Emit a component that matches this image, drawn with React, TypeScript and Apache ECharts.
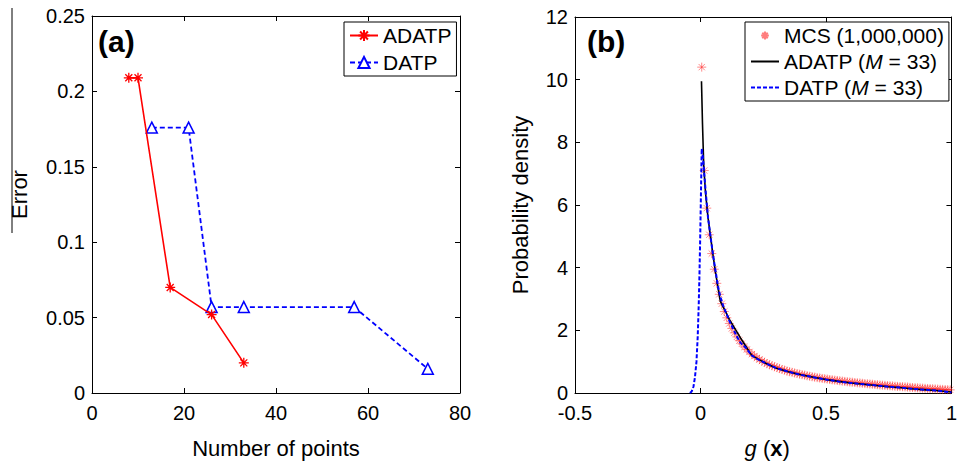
import React, { useEffect, useRef } from 'react';
import * as echarts from 'echarts';

// ---- Panel (a) data ----
const adatpLeftX = [8, 10, 17, 26, 33];
const adatpLeftY = [0.209, 0.209, 0.07, 0.052, 0.02];
const datpLeftX = [13, 21, 26, 33, 57, 73];
const datpLeftY = [0.176, 0.176, 0.057, 0.057, 0.057, 0.016];

// ---- Panel (b) data ----
const mcsX = [
  0.005, 0.015, 0.025, 0.035, 0.045, 0.055, 0.065, 0.075, 0.085, 0.095,
  0.105, 0.115, 0.125, 0.135, 0.145, 0.155, 0.165, 0.175, 0.185, 0.195,
  0.205, 0.215, 0.225, 0.235, 0.245, 0.255, 0.265, 0.275, 0.285, 0.295,
  0.305, 0.315, 0.325, 0.335, 0.345, 0.355, 0.365, 0.375, 0.385, 0.395,
  0.405, 0.415, 0.425, 0.435, 0.445, 0.455, 0.465, 0.475, 0.485, 0.495,
  0.505, 0.515, 0.525, 0.535, 0.545, 0.555, 0.565, 0.575, 0.585, 0.595,
  0.605, 0.615, 0.625, 0.635, 0.645, 0.655, 0.665, 0.675, 0.685, 0.695,
  0.705, 0.715, 0.725, 0.735, 0.745, 0.755, 0.765, 0.775, 0.785, 0.795,
  0.805, 0.815, 0.825, 0.835, 0.845, 0.855, 0.865, 0.875, 0.885, 0.895,
  0.905, 0.915, 0.925, 0.935, 0.945, 0.955, 0.965, 0.975, 0.985, 0.995,
];
const mcsY = [
  10.4, 7.1, 5.9, 5.05, 4.45, 3.95, 3.5, 3.15, 2.85, 2.6,
  2.4, 2.22, 2.06, 1.92, 1.79, 1.67, 1.57, 1.47, 1.39, 1.31,
  1.24, 1.18, 1.12, 1.07, 1.02, 0.98, 0.94, 0.9, 0.87, 0.84,
  0.81, 0.78, 0.75, 0.73, 0.7, 0.68, 0.66, 0.64, 0.62, 0.6,
  0.585, 0.57, 0.55, 0.535, 0.52, 0.505, 0.49, 0.48, 0.465, 0.455,
  0.445, 0.43, 0.42, 0.41, 0.4, 0.39, 0.38, 0.37, 0.36, 0.35,
  0.345, 0.335, 0.325, 0.32, 0.31, 0.3, 0.295, 0.285, 0.28, 0.27,
  0.265, 0.255, 0.25, 0.245, 0.235, 0.23, 0.225, 0.215, 0.21, 0.205,
  0.2, 0.195, 0.19, 0.18, 0.175, 0.17, 0.165, 0.16, 0.155, 0.15,
  0.145, 0.14, 0.135, 0.13, 0.125, 0.12, 0.115, 0.11, 0.105, 0.1,
];
const adatpRightX = [
  0.004, 0.008, 0.013, 0.02, 0.03, 0.04, 0.05, 0.06, 0.07, 0.079, 0.09, 0.1,
  0.115, 0.13, 0.145, 0.16, 0.18, 0.204, 0.23, 0.26, 0.3, 0.35, 0.4, 0.45,
  0.5, 0.55, 0.6, 0.65, 0.7, 0.75, 0.8, 0.85, 0.9, 0.95, 1.0,
];
const adatpRightY = [
  9.95, 8.6, 7.25, 6.4, 5.6, 5.0, 4.4, 3.85, 3.35, 2.93, 2.75, 2.6,
  2.35, 2.15, 1.95, 1.75, 1.5, 1.2, 1.08, 0.95, 0.8, 0.68, 0.58, 0.5,
  0.43, 0.37, 0.32, 0.28, 0.24, 0.2, 0.17, 0.13, 0.1, 0.07, 0.03,
];
const datpRightX = [
  -0.042, -0.035, -0.028, -0.022, -0.016, -0.011, -0.007, -0.004, -0.001,
  0.002, 0.005, 0.01, 0.015, 0.02, 0.03, 0.04, 0.05, 0.06, 0.07, 0.08, 0.09,
  0.1, 0.115, 0.13, 0.145, 0.16, 0.18, 0.204, 0.23, 0.26, 0.3, 0.35, 0.4,
  0.45, 0.5, 0.55, 0.6, 0.65, 0.7, 0.75, 0.8, 0.85, 0.9, 0.95, 1.0,
];
const datpRightY = [
  0, 0.05, 0.2, 0.5, 1.0, 1.8, 2.8, 3.8, 5.0,
  6.4, 7.8, 7.5, 7.0, 6.5, 5.6, 5.0, 4.4, 3.9, 3.4, 3.05, 2.8,
  2.6, 2.3, 2.05, 1.8, 1.6, 1.45, 1.2, 1.07, 0.95, 0.8, 0.68, 0.58,
  0.5, 0.43, 0.37, 0.32, 0.28, 0.24, 0.2, 0.17, 0.13, 0.1, 0.07, 0.02,
];

const zip = (xs: number[], ys: number[]) => xs.map((x, i) => [x, ys[i]]);

const FONT = "'Liberation Sans', Arial, Helvetica, sans-serif";
const ASTERISK = 'path://M5,0L5,10M0,5L10,5M1.5,1.5L8.5,8.5M1.5,8.5L8.5,1.5';
// same asterisk with invisible padding so the legend icon is drawn smaller
const ASTERISK_SMALL =
  'path://M-4,-4M14,14M5,0L5,10M0,5L10,5M1.5,1.5L8.5,8.5M1.5,8.5L8.5,1.5';

function makeAxis(
  gridIndex: number,
  position: string,
  min: number,
  max: number,
  interval: number,
  showLabel: boolean,
  extra: any = {}
) {
  const isX = position === 'bottom' || position === 'top';
  return {
    type: 'value',
    gridIndex,
    position,
    min,
    max,
    interval,
    axisLine: { show: true, onZero: false, lineStyle: { color: '#000', width: 1 } },
    axisTick: { show: true, inside: true, length: 5, lineStyle: { color: '#000', width: 1 } },
    axisLabel: {
      show: showLabel,
      color: '#000',
      fontSize: 20,
      lineHeight: 16,
      fontFamily: FONT,
      margin: isX ? 12 : 7,
      padding: isX ? 0 : [0, 0, 4, 0],
    },
    splitLine: { show: false },
    ...extra,
  };
}

const nameStyle = { color: '#000', fontSize: 22, fontFamily: FONT };
const hiddenSymbol = { opacity: 0 };

export default function App() {
  const ref = useRef<HTMLDivElement>(null);

  useEffect(() => {
    if (!ref.current) return;
    const chart = echarts.init(ref.current, undefined, { renderer: 'svg' });

    const option: any = {
      animation: false,
      backgroundColor: '#fff',
      title: [
        {
          text: '(a)',
          left: 98,
          top: 26,
          padding: 0,
          textStyle: { fontSize: 30, fontWeight: 'bold', fontFamily: FONT, color: '#000' },
        },
        {
          text: '(b)',
          left: 587,
          top: 26,
          padding: 0,
          textStyle: { fontSize: 30, fontWeight: 'bold', fontFamily: FONT, color: '#000' },
        },
      ],
      grid: [
        { left: 92, right: 500, top: 16, bottom: 68 },
        { left: 575, right: 5, top: 17, bottom: 68 },
      ],
      xAxis: [
        makeAxis(0, 'bottom', 0, 80, 20, true, {
          name: 'Number of points',
          nameLocation: 'middle',
          nameGap: 44,
          nameTextStyle: nameStyle,
        }),
        makeAxis(0, 'top', 0, 80, 20, false),
        makeAxis(1, 'bottom', -0.5, 1, 0.5, true, {
          name: '{i|g} ({b|x})',
          nameLocation: 'middle',
          nameGap: 44,
          nameTextStyle: {
            ...nameStyle,
            padding: [0, 0, 0, 8],
            rich: {
              i: { fontStyle: 'italic', fontSize: 22, fontFamily: FONT, color: '#000' },
              b: { fontWeight: 'bold', fontSize: 22, fontFamily: FONT, color: '#000' },
            },
          },
        }),
        makeAxis(1, 'top', -0.5, 1, 0.5, false),
      ],
      yAxis: [
        makeAxis(0, 'left', 0, 0.25, 0.05, true, {
          name: 'Error',
          nameLocation: 'middle',
          nameGap: 62,
          nameTextStyle: { ...nameStyle, padding: [0, 0, 0, 20] },
        }),
        makeAxis(0, 'right', 0, 0.25, 0.05, false),
        makeAxis(1, 'left', 0, 12, 2, true, {
          name: 'Probability density',
          nameLocation: 'middle',
          nameGap: 44,
          nameTextStyle: nameStyle,
        }),
        makeAxis(1, 'right', 0, 12, 2, false),
      ],
      legend: [
        {
          data: ['ADATP', 'DATP'],
          orient: 'vertical',
          left: 344,
          top: 22,
          padding: [3, 5, 3, 5],
          itemWidth: 28,
          itemHeight: 14,
          itemGap: 6,
          borderColor: '#000',
          borderWidth: 1,
          backgroundColor: '#fff',
          textStyle: { color: '#000', fontSize: 21, fontFamily: FONT },
        },
        {
          data: [
            { name: 'MCS (1,000,000)', icon: ASTERISK_SMALL },
            { name: 'ADATP (M = 33)', itemStyle: hiddenSymbol },
            { name: 'DATP (M = 33)', itemStyle: hiddenSymbol },
          ],
          orient: 'vertical',
          left: 745,
          top: 22,
          padding: [3, 5, 3, 5],
          itemWidth: 28,
          itemHeight: 14,
          itemGap: 5,
          borderColor: '#000',
          borderWidth: 1,
          backgroundColor: '#fff',
          formatter: (name: string) => name.replace('(M =', '({i|M} ='),
          textStyle: {
            color: '#000',
            fontSize: 21,
            fontFamily: FONT,
            rich: {
              i: { fontStyle: 'italic', fontSize: 21, fontFamily: FONT, color: '#000' },
            },
          },
        },
      ],
      graphic: [
        {
          type: 'line',
          shape: { x1: 12, y1: 8, x2: 12, y2: 233 },
          style: { stroke: '#000', lineWidth: 1 },
          silent: true,
        },
      ],
      series: [
        {
          name: 'ADATP',
          type: 'line',
          xAxisIndex: 0,
          yAxisIndex: 0,
          data: zip(adatpLeftX, adatpLeftY),
          symbol: ASTERISK,
          symbolSize: 10,
          showAllSymbol: true,
          lineStyle: { color: '#ff0000', width: 1.6 },
          itemStyle: { color: '#ff0000', borderColor: '#ff0000', borderWidth: 1.3 },
          z: 3,
        },
        {
          name: 'DATP',
          type: 'line',
          xAxisIndex: 0,
          yAxisIndex: 0,
          data: zip(datpLeftX, datpLeftY),
          symbol: 'triangle',
          symbolSize: 11,
          showAllSymbol: true,
          lineStyle: { color: '#0000ff', width: 1.8, type: [5, 3] },
          itemStyle: { color: '#ffffff', borderColor: '#0000ff', borderWidth: 1.5 },
          z: 2,
        },
        {
          name: 'MCS (1,000,000)',
          type: 'scatter',
          xAxisIndex: 2,
          yAxisIndex: 2,
          data: zip(mcsX, mcsY),
          symbol: ASTERISK,
          symbolSize: 9,
          itemStyle: {
            color: 'rgba(255,40,40,0.75)',
            borderColor: 'rgba(255,40,40,0.75)',
            borderWidth: 0.9,
          },
          z: 1,
        },
        {
          name: 'ADATP (M = 33)',
          type: 'line',
          xAxisIndex: 2,
          yAxisIndex: 2,
          data: zip(adatpRightX, adatpRightY),
          symbol: 'none',
          lineStyle: { color: '#000000', width: 1.6 },
          itemStyle: { color: '#000000' },
          z: 2,
        },
        {
          name: 'DATP (M = 33)',
          type: 'line',
          xAxisIndex: 2,
          yAxisIndex: 2,
          data: zip(datpRightX, datpRightY),
          symbol: 'none',
          lineStyle: { color: '#0000ff', width: 2, type: [4, 2] },
          itemStyle: { color: '#0000ff' },
          z: 3,
        },
      ],
    };

    chart.setOption(option);
    return () => chart.dispose();
  }, []);

  return (
    <div
      ref={ref}
      style={{ position: 'fixed', left: 0, top: 0, width: 960, height: 464, background: '#fff' }}
    />
  );
}
